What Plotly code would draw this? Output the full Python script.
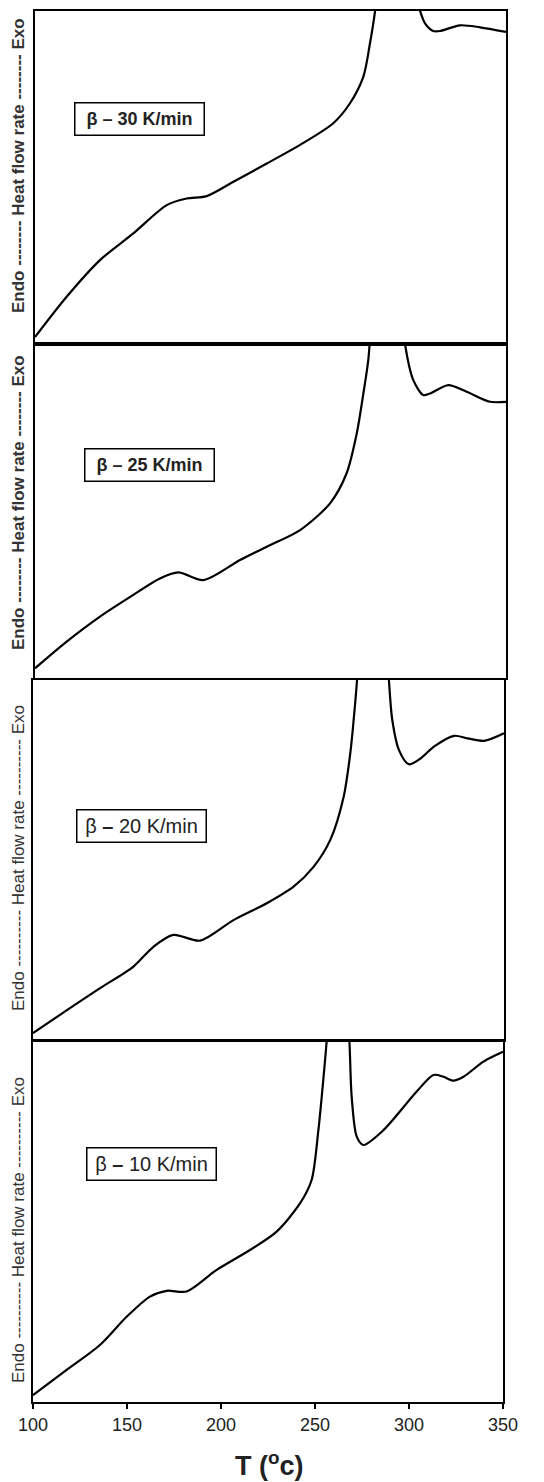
import plotly.graph_objects as go

# ---- data (temperature in °C, relative heat-flow signal 0-100 per panel) ----
T_30 = [100, 116.8, 134.5, 152.2, 169.9, 180.5, 191.1, 205.3, 223, 240.7, 258.3, 267.2, 274.3, 277.8,
        280.5, 284, 292, 299, 304.4, 307, 311.4, 315, 325.6, 336.2, 350]
Y_30 = [2.1, 14.2, 25.2, 33.2, 41.7, 43.7, 44.4, 48.7, 54.2, 59.8, 66.3, 72.3, 80.3, 90.3,
        100, 120, 130, 112, 100, 96.3, 94, 94, 95.7, 95.1, 93.7]

T_25 = [100, 116.8, 134.5, 152.2, 166.3, 176.1, 189.3, 208.8, 223, 240.7, 256.6, 265.4, 270.8, 274.3,
        276.9, 280, 287, 294, 296.4, 300.8, 306.1, 309.7, 319.4, 329.1, 341.5, 350]
Y_25 = [2.9, 10.9, 18.4, 24.9, 29.8, 31.6, 29.3, 35.3, 39.3, 44.3, 52.3, 61.3, 73.3, 85.2,
        95.2, 115, 130, 115, 100, 89.2, 84.7, 85.2, 87.7, 85.7, 82.7, 82.7]

T_20 = [100, 118, 135.6, 153.3, 163.9, 174.5, 188.6, 206.4, 224.1, 238.3, 248.9, 257.8, 264.9, 268.4,
        270.2, 272, 275, 281, 287, 288.9, 290.7, 294.2, 299.5, 305.7, 312.8, 323.5, 330.6, 339.4, 350]
Y_20 = [1.9, 8.3, 14.4, 20.4, 25.9, 29.2, 27.6, 33.3, 38, 42.6, 48.1, 55.6, 67.6, 79.6,
        88.9, 100, 125, 135, 115, 100, 88.9, 80.6, 76.6, 78.2, 81.5, 84.5, 83.8, 83.1, 85.2]

T_10 = [100, 117.9, 135.6, 149.8, 162.2, 171.1, 181.7, 197.7, 215.4, 229.6, 242, 248.2, 251.8, 254.4,
        256.2, 258, 262, 266.5, 268.3, 269.5, 272.2, 275.7, 286.4, 304.1, 313, 318.3, 323.6, 329, 339.6, 350]
Y_10 = [1.9, 8.9, 15.8, 23.6, 29.2, 30.8, 30.6, 36.6, 42.1, 47.2, 55, 61.5, 75.3, 89.2,
        100, 115, 125, 112, 100, 84.6, 73.5, 71.2, 75.3, 86, 90.6, 90.1, 89, 90.1, 94.3, 97]

rates = ["30", "25", "20", "10"]
x_ticks = [100, 150, 200, 250, 300, 350]

W, H = 544, 1482
OFF = 8  # page body margin
# panel frames in page pixels (left, right, top, bottom)
frames = [(35, 506, 11, 344), (35, 506, 344, 678), (33, 504, 680, 1040), (33, 503, 1041, 1402)]
box_centers = [(139, 118.5), (149, 465.5), (141, 825.5), (151, 1163.5)]
label_centers = [166, 503, 858, 1230]
series = [(T_30, Y_30), (T_25, Y_25), (T_20, Y_20), (T_10, Y_10)]


def fx(px):
    return (px - OFF) / W


def fy(py):
    return 1 - (py - OFF) / H


fig = go.Figure()
annotations = []
for i, ((l, r, t, b), (tx, ty)) in enumerate(zip(frames, series)):
    n = "" if i == 0 else str(i + 1)
    fig.add_trace(go.Scatter(x=tx, y=ty, mode="lines", xaxis="x" + n, yaxis="y" + n,
                             line=dict(color="black", width=2.2, shape="spline", smoothing=0.8),
                             showlegend=False, hoverinfo="skip"))
    bottom = (i == 3)
    fig.layout["xaxis" + n] = dict(
        domain=[fx(l), fx(r)], range=[100, 350], anchor="y" + n, automargin=False,
        showline=True, mirror=True, linecolor="black", linewidth=2,
        showgrid=False, zeroline=False,
        ticks="outside" if bottom else "", ticklen=5, tickwidth=1.5, tickcolor="black",
        tickvals=x_ticks, showticklabels=bottom,
        tickfont=dict(family="Liberation Sans, Arial", size=18, color="#222222"),
    )
    fig.layout["yaxis" + n] = dict(
        domain=[fy(b), fy(t)], range=[0, 100], anchor="x" + n, automargin=False,
        showline=True, mirror=True, linecolor="black", linewidth=2,
        showgrid=False, zeroline=False, ticks="", showticklabels=False,
    )
    bold = i < 2
    bx, by = box_centers[i]
    box_text = "β <b>–</b> " + rates[i] + " K/min"
    annotations.append(dict(
        xref="paper", yref="paper", x=fx(bx), y=fy(by), xanchor="center", yanchor="middle",
        text=("<b>" + box_text + "</b>") if bold else box_text, showarrow=False,
        font=dict(family="Liberation Sans, Arial", size=18 if bold else 20, color="#222222"),
        bordercolor="black", borderwidth=1.5, borderpad=1, bgcolor="white",
        width=126, height=29,
    ))
    dash = "-" * (8 if bold else 10)
    label = "Endo " + dash + " Heat flow rate " + dash + " Exo"
    annotations.append(dict(
        xref="paper", yref="paper", x=fx(18), y=fy(label_centers[i]),
        xanchor="center", yanchor="middle", textangle=-90, showarrow=False,
        text=("<b>" + label + "</b>" if bold else label),
        font=dict(family="Liberation Sans, Arial", size=17, color="#333333"),
    ))

annotations.append(dict(
    xref="paper", yref="paper", x=fx(269), y=fy(1464), xanchor="center", yanchor="middle",
    text="<b>T (<sup>o</sup>c)</b>", showarrow=False,
    font=dict(family="Liberation Sans, Arial", size=27, color="#222222"),
))

fig.update_layout(
    template="none",
    width=W, height=H, margin=dict(l=0, r=0, t=0, b=0, autoexpand=False),
    paper_bgcolor="white", plot_bgcolor="white",
    annotations=annotations,
)

fig.write_html("out.html")
